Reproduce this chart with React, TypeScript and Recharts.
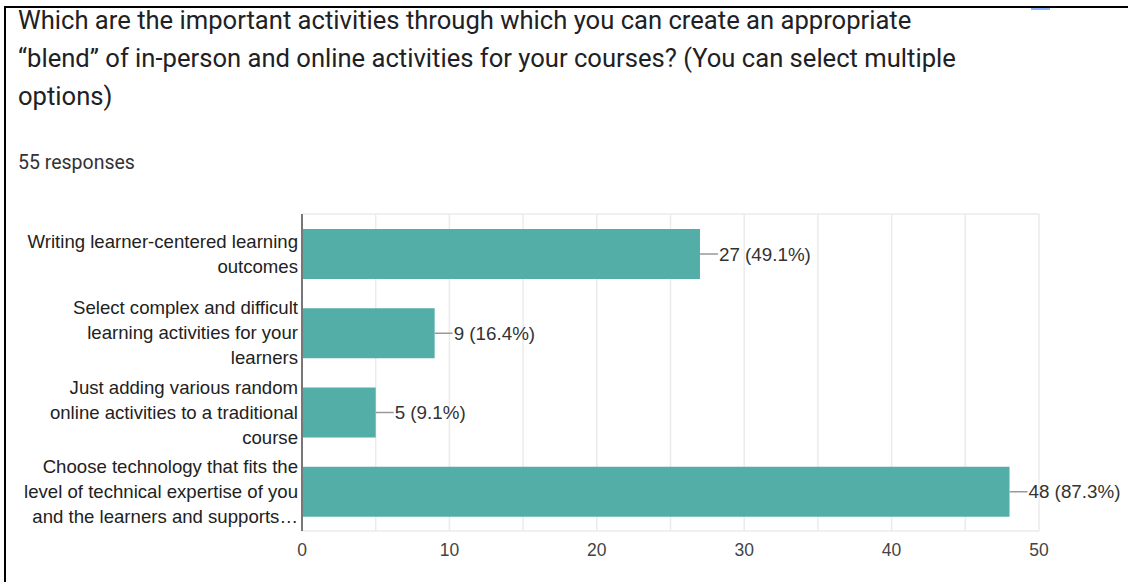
import React from "react";
import {
  BarChart,
  Bar,
  XAxis,
  YAxis,
  CartesianGrid,
  LabelList,
} from "recharts";

const titleLines = [
  "Which are the important activities through which you can create an appropriate",
  "\u201cblend\u201d of in-person and online activities for your courses? (You can select multiple",
  "options)",
];
const totalResponses = 55;

const categories = [
  "Writing learner-centered learning\noutcomes",
  "Select complex and difficult\nlearning activities for your\nlearners",
  "Just adding various random\nonline activities to a traditional\ncourse",
  "Choose technology that fits the\nlevel of technical expertise of you\nand the learners and supports\u2026",
];
const responses = [27, 9, 5, 48];
const xTicks = [0, 5, 10, 15, 20, 25, 30, 35, 40, 45, 50];
const xLabelTicks = [0, 10, 20, 30, 40, 50];

const data = categories.map((name, i) => ({ name, count: responses[i] }));

const CHART_FONT = "Arial, 'Liberation Sans', sans-serif";

const YTick = ({ x, y, payload }: any) => {
  const lines: string[] = String(payload.value).split("\n");
  const lh = 25;
  return (
    <text
      x={x}
      y={y}
      textAnchor="end"
      fill="#222"
      fontSize={18.6}
      fontFamily={CHART_FONT}
    >
      {lines.map((ln, i) => (
        <tspan
          key={i}
          x={x}
          y={y + (i - (lines.length - 1) / 2) * lh}
          dominantBaseline="central"
        >
          {ln}
        </tspan>
      ))}
    </text>
  );
};

const XTick = ({ x, y, payload }: any) => {
  if (!xLabelTicks.includes(payload.value)) return <g />;
  return (
    <text
      x={x}
      y={y}
      dy="0.71em"
      textAnchor="middle"
      fill="#444"
      fontSize={17.5}
      fontFamily={CHART_FONT}
    >
      {payload.value}
    </text>
  );
};

const ValueLabel = (props: any) => {
  const { x, y, width, height, value } = props;
  const endX = x + width;
  const midY = y + height / 2;
  const pct = ((value / totalResponses) * 100).toFixed(1);
  return (
    <g>
      <line x1={endX} y1={midY} x2={endX + 18} y2={midY} stroke="#999" strokeWidth={1.5} />
      <text
        x={endX + 19}
        y={midY}
        dominantBaseline="central"
        fill="#333"
        fontSize={18.8}
        fontFamily={CHART_FONT}
      >
        {`${value} (${pct}%)`}
      </text>
    </g>
  );
};

const App: React.FC = () => {
  return (
    <div
      style={{
        position: "fixed",
        left: 0,
        top: 0,
        width: 1128,
        height: 582,
        background: "#fff",
        overflow: "hidden",
      }}
    >
      {/* frame lines */}
      <div
        style={{
          position: "absolute",
          left: 4,
          top: 6,
          width: 1200,
          height: 700,
          borderTop: "2px solid #000",
          borderLeft: "2px solid #000",
        }}
      />
      <div
        style={{
          position: "absolute",
          left: 1031,
          top: 8,
          width: 19,
          height: 2,
          background: "#8ab4f8",
        }}
      />
      <div
        style={{
          position: "absolute",
          left: 18,
          top: 1,
          fontFamily: "Roboto, Arial, sans-serif",
          fontSize: 25.6,
          lineHeight: "38px",
          color: "#202124",
          whiteSpace: "nowrap",
        }}
      >
        {titleLines.map((ln, i) => (
          <div key={i}>{ln}</div>
        ))}
      </div>
      <div
        style={{
          position: "absolute",
          left: 18,
          top: 151,
          fontFamily: "Roboto, Arial, sans-serif",
          fontSize: 19.5,
          color: "#333",
        }}
      >
        {totalResponses} responses
      </div>
      <div style={{ position: "absolute", left: 0, top: 0 }}>
        <BarChart
          width={1128}
          height={582}
          data={data}
          layout="vertical"
          margin={{ top: 214, right: 89, bottom: 21, left: 12 }}
        >
          <CartesianGrid
            stroke="#ebebeb"
            strokeWidth={1.5}
            horizontalCoordinatesGenerator={({ offset }: any) => [
              offset.top,
              offset.top + offset.height,
            ]}
          />
          <XAxis
            type="number"
            domain={[0, 50]}
            ticks={xTicks}
            interval={0}
            axisLine={false}
            tickLine={false}
            tickMargin={7}
            height={30}
            tick={<XTick />}
          />
          <YAxis
            type="category"
            dataKey="name"
            width={290}
            axisLine={{ stroke: "#777", strokeWidth: 2 }}
            tickLine={false}
            tickSize={0}
            tickMargin={4}
            interval={0}
            tick={<YTick />}
          />
          <Bar dataKey="count" fill="#53aea7" barSize={50} isAnimationActive={false}>
            <LabelList dataKey="count" content={<ValueLabel />} />
          </Bar>
        </BarChart>
      </div>
    </div>
  );
};

export default App;
